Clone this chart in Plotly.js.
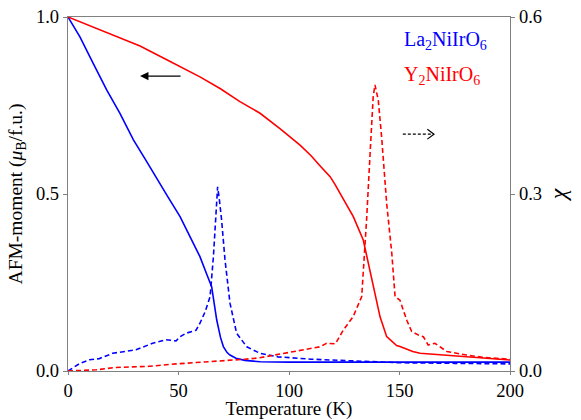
<!DOCTYPE html>
<html>
<head>
<meta charset="utf-8">
<script src="https://cdn.plot.ly/plotly-3.0.1.min.js"></script>
<style>
html,body{margin:0;padding:0;background:#fff;}
#chart{width:581px;height:420px;}
</style>
</head>
<body>
<div id="chart"></div>
<script>
// La2NiIrO6 AFM moment (left axis)
const laMomentT = [0,5.4,11.4,17.5,23.5,29.6,35,40,45,50.7,55,59.7,63,65,67.3,69,70.3,72,73.3,76,80,87,100,120,150,200];
const laMoment  = [1.0,0.944,0.869,0.794,0.728,0.653,0.598,0.545,0.494,0.436,0.38,0.323,0.27,0.238,0.144,0.095,0.069,0.052,0.045,0.036,0.030,0.026,0.025,0.025,0.025,0.025];

// Y2NiIrO6 AFM moment (left axis)
const yMomentT = [0,10,20,32.6,44.7,59.7,68.8,77.8,86.9,95.9,105,110,114,118.6,120.8,123.1,129.1,133.6,135.9,138.1,141.2,144.2,148.7,150.2,156,159.3,165.3,180.4,200];
const yMoment  = [1.0,0.975,0.95,0.918,0.879,0.831,0.798,0.761,0.728,0.685,0.638,0.608,0.58,0.549,0.527,0.502,0.436,0.37,0.304,0.238,0.153,0.097,0.072,0.069,0.055,0.05,0.047,0.039,0.031];

// La2NiIrO6 susceptibility chi (right axis)
const laChiT = [0,2.1,5,9.7,14.2,20.2,26.2,30.8,38.3,44.3,48.9,50.7,53.4,57.9,59.7,62,64.3,65.8,66.8,67.7,68.5,69.5,71,73.3,76.3,80.9,86.9,95,110,130,150,175,200];
const laChi  = [0,0.005,0.012,0.019,0.021,0.030,0.034,0.036,0.047,0.053,0.051,0.058,0.064,0.069,0.081,0.100,0.126,0.194,0.256,0.312,0.29,0.256,0.19,0.115,0.064,0.041,0.030,0.024,0.020,0.017,0.014,0.013,0.012];

// Y2NiIrO6 susceptibility chi (right axis)
const yChiT = [0,5,12.7,21.7,36.8,48.9,57.9,70,80,86,95,105,114,117,121,124.5,129,132.9,134,135.1,136.7,138.1,138.9,140.4,141.9,144.2,146.5,148,150.2,152.5,153.3,155.5,159,160.8,163,166,171.4,180.4,187.9,200];
const yChi  = [0,0.001,0.002,0.006,0.008,0.012,0.014,0.017,0.020,0.022,0.028,0.035,0.041,0.047,0.046,0.069,0.092,0.126,0.19,0.256,0.369,0.465,0.485,0.459,0.397,0.284,0.2,0.126,0.12,0.092,0.086,0.067,0.06,0.058,0.044,0.047,0.033,0.027,0.023,0.020];

const xTicks = [0,50,100,150,200];
const yTicks = [0,0.5,1.0];
const y2Ticks = [0,0.3,0.6];

const BLUE = '#0000ff', RED = '#ff0000';
const FONT = 'Liberation Serif';

const traces = [
  {x: laMomentT, y: laMoment, type:'scatter', mode:'lines', line:{color:BLUE, width:1.6}, yaxis:'y'},
  {x: yMomentT, y: yMoment, type:'scatter', mode:'lines', line:{color:RED, width:1.6}, yaxis:'y'},
  {x: laChiT, y: laChi, type:'scatter', mode:'lines', line:{color:BLUE, width:1.6, dash:'5px,3px'}, yaxis:'y2'},
  {x: yChiT, y: yChi, type:'scatter', mode:'lines', line:{color:RED, width:1.6, dash:'5px,3px'}, yaxis:'y2'}
];

const AX = '#808080';
const layout = {
  width:581, height:420,
  margin:{l:68, r:71, t:17, b:49},
  paper_bgcolor:'#fff', plot_bgcolor:'#fff',
  showlegend:false,
  font:{family:FONT, size:18, color:'#000'},
  xaxis:{range:[0,200], tickvals:xTicks, ticktext:xTicks.map(String), showgrid:false, zeroline:false,
         showline:true, mirror:true, linecolor:AX, linewidth:1.2, ticks:'outside', ticklen:3, tickcolor:AX,
         tickfont:{family:FONT, size:18.5, color:'#000'}, title:{text:'Temperature (K)', font:{family:FONT, size:19, color:'#000'}, standoff:4}},
  yaxis:{range:[0,1], tickvals:yTicks, ticktext:yTicks.map(v=>v.toFixed(1)), showgrid:false, zeroline:false,
         showline:true, linecolor:AX, linewidth:1.2, ticks:'outside', ticklen:4, tickcolor:AX,
         tickfont:{family:FONT, size:18.5, color:'#000'}, title:{text:'AFM-moment (<i>μ</i><sub>B</sub>/f.u.)', font:{family:FONT, size:19.5, color:'#000'}, standoff:8}},
  yaxis2:{range:[0,0.6], overlaying:'y', side:'right', tickvals:y2Ticks, ticktext:y2Ticks.map(v=>v.toFixed(1)), showgrid:false, zeroline:false,
         showline:true, linecolor:AX, linewidth:1.2, ticks:'outside', ticklen:4, tickcolor:AX,
         tickfont:{family:FONT, size:18.5, color:'#000'}, title:{text:'<i>χ</i>', font:{family:FONT, size:24, color:'#000'}, standoff:8}},
  shapes:[
    {type:'line', xref:'x', yref:'y', x0:151.5, x1:165.4, y0:0.669, y1:0.669, line:{color:'#000', width:1.2, dash:'3px,2px'}},
    {type:'path', xref:'x', yref:'y', path:'M 162.6 0.683 L 165.6 0.669 L 162.6 0.655', line:{color:'#000', width:1.2}}
  ],
  annotations:[
    {xref:'x', yref:'y', x:32.6, y:0.833, ax:42, ay:0, text:'', showarrow:true, arrowhead:2, arrowsize:1.2, arrowwidth:1.4, arrowcolor:'#000'},
    {xref:'paper', yref:'paper', x:0.755, y:0.935, xanchor:'left', yanchor:'middle', showarrow:false,
     text:'La<sub>2</sub>NiIrO<sub>6</sub>', font:{family:FONT, size:20, color:BLUE}},
    {xref:'paper', yref:'paper', x:0.755, y:0.835, xanchor:'left', yanchor:'middle', showarrow:false,
     text:'Y<sub>2</sub>NiIrO<sub>6</sub>', font:{family:FONT, size:20, color:RED}}
  ]
};

Plotly.newPlot('chart', traces, layout, {displayModeBar:false, staticPlot:true});
</script>
</body>
</html>
